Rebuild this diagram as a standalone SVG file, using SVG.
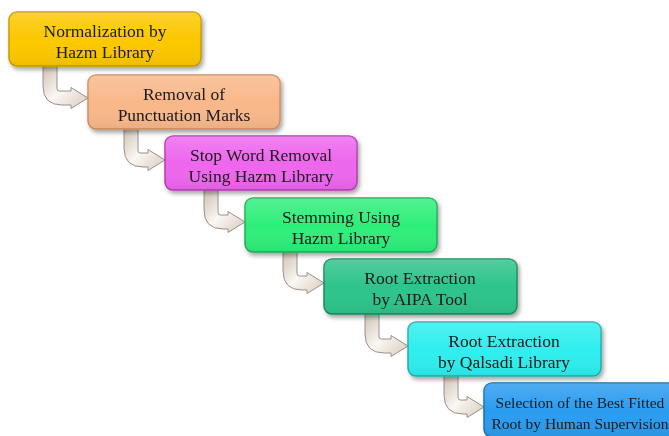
<svg xmlns="http://www.w3.org/2000/svg" width="669" height="436" viewBox="0 0 669 436">
<defs>
<style>
.box rect.b{stroke-width:1.5}
.t{font-size:17.5px;fill:#1a1a1a;text-anchor:middle}
.t.s{font-size:15.5px}
.hl{fill:url(#hl)}
.conn path{fill:url(#cg);stroke:#9a9088;stroke-width:1}
</style>
<linearGradient id="hl" x1="0" y1="0" x2="0" y2="1">
<stop offset="0" stop-color="#fff" stop-opacity="0.18"/>
<stop offset="0.5" stop-color="#fff" stop-opacity="0"/>
<stop offset="1" stop-color="#000" stop-opacity="0.06"/>
</linearGradient>
<linearGradient id="cg" x1="0" y1="0" x2="1" y2="1">
<stop offset="0" stop-color="#c9bdb0"/>
<stop offset="0.5" stop-color="#fbf7f2"/>
<stop offset="1" stop-color="#d6cbbf"/>
</linearGradient>
<filter id="sh" x="-10%" y="-20%" width="130%" height="150%">
<feDropShadow dx="2" dy="3" stdDeviation="2" flood-color="#000" flood-opacity="0.35"/>
</filter>
</defs>
<rect width="669" height="436" fill="#fff"/>
<g id="connectors" class="conn">
<path d="M43,62 V86 Q43,105 62,105 H71 V108.5 L88,98 L71,87.5 V91 H59.5 Q57,91 57,88.5 V62 Z"/>
<path d="M124,125 V148 Q124,167 143,167 H148 V170.5 L165,160 L148,149.5 V153 H140.5 Q138,153 138,150.5 V125 Z"/>
<path d="M204,187 V210 Q204,229 223,229 H228 V232.5 L245,222 L228,211.5 V215 H220.5 Q218,215 218,212.5 V187 Z"/>
<path d="M283,249 V271 Q283,290 302,290 H307 V293.5 L324,283 L307,272.5 V276 H299.5 Q297,276 297,273.5 V249 Z"/>
<path d="M365,310 V334 Q365,353 384,353 H391 V356.5 L408,346 L391,335.5 V339 H381.5 Q379,339 379,336.5 V310 Z"/>
<path d="M444,372 V395 Q444,414 463,414 H467 V417.5 L484,407 L467,396.5 V400 H460.5 Q458,400 458,397.5 V372 Z"/>
</g>
<g font-family="Liberation Serif, Times New Roman, DejaVu Serif, serif">
<g id="n1" class="box" filter="url(#sh)">
<rect class="b" x="9" y="12" width="192" height="54" rx="8" fill="#FCC800" stroke="#C99A00"/>
<rect class="hl" x="9" y="12" width="192" height="54" rx="8"/>
<text class="t" x="105" y="37">Normalization by</text>
<text class="t" x="105" y="58">Hazm Library</text>
</g>
<g id="n2" class="box" filter="url(#sh)">
<rect class="b" x="88" y="75" width="192" height="54" rx="8" fill="#F9B88A" stroke="#CF8D5E"/>
<rect class="hl" x="88" y="75" width="192" height="54" rx="8"/>
<text class="t" x="184" y="100">Removal of</text>
<text class="t" x="184" y="121">Punctuation Marks</text>
</g>
<g id="n3" class="box" filter="url(#sh)">
<rect class="b" x="165" y="136" width="192" height="54" rx="8" fill="#EE66EE" stroke="#B43CB4"/>
<rect class="hl" x="165" y="136" width="192" height="54" rx="8"/>
<text class="t" x="261" y="161">Stop Word Removal</text>
<text class="t" x="261" y="182">Using Hazm Library</text>
</g>
<g id="n4" class="box" filter="url(#sh)">
<rect class="b" x="245" y="198" width="192" height="54" rx="8" fill="#2EEE7A" stroke="#1FAE55"/>
<rect class="hl" x="245" y="198" width="192" height="54" rx="8"/>
<text class="t" x="341" y="223">Stemming Using</text>
<text class="t" x="341" y="244">Hazm Library</text>
</g>
<g id="n5" class="box" filter="url(#sh)">
<rect class="b" x="324" y="259" width="193" height="55" rx="8" fill="#2DC48A" stroke="#1C8A5F"/>
<rect class="hl" x="324" y="259" width="193" height="55" rx="8"/>
<text class="t" x="420" y="284">Root Extraction</text>
<text class="t" x="420" y="305">by AIPA Tool</text>
</g>
<g id="n6" class="box" filter="url(#sh)">
<rect class="b" x="408" y="322" width="193" height="54" rx="8" fill="#2EEEEE" stroke="#1FB0B0"/>
<rect class="hl" x="408" y="322" width="193" height="54" rx="8"/>
<text class="t" x="504" y="347">Root Extraction</text>
<text class="t" x="504" y="368">by Qalsadi Library</text>
</g>
<g id="n7" class="box" filter="url(#sh)">
<rect class="b" x="484" y="383" width="192" height="54" rx="8" fill="#2B9CF0" stroke="#1A6FB5"/>
<rect class="hl" x="484" y="383" width="192" height="54" rx="8"/>
<text class="t s" x="580" y="408">Selection of the Best Fitted</text>
<text class="t s" x="580" y="429">Root by Human Supervision</text>
</g>
</g>
</svg>
